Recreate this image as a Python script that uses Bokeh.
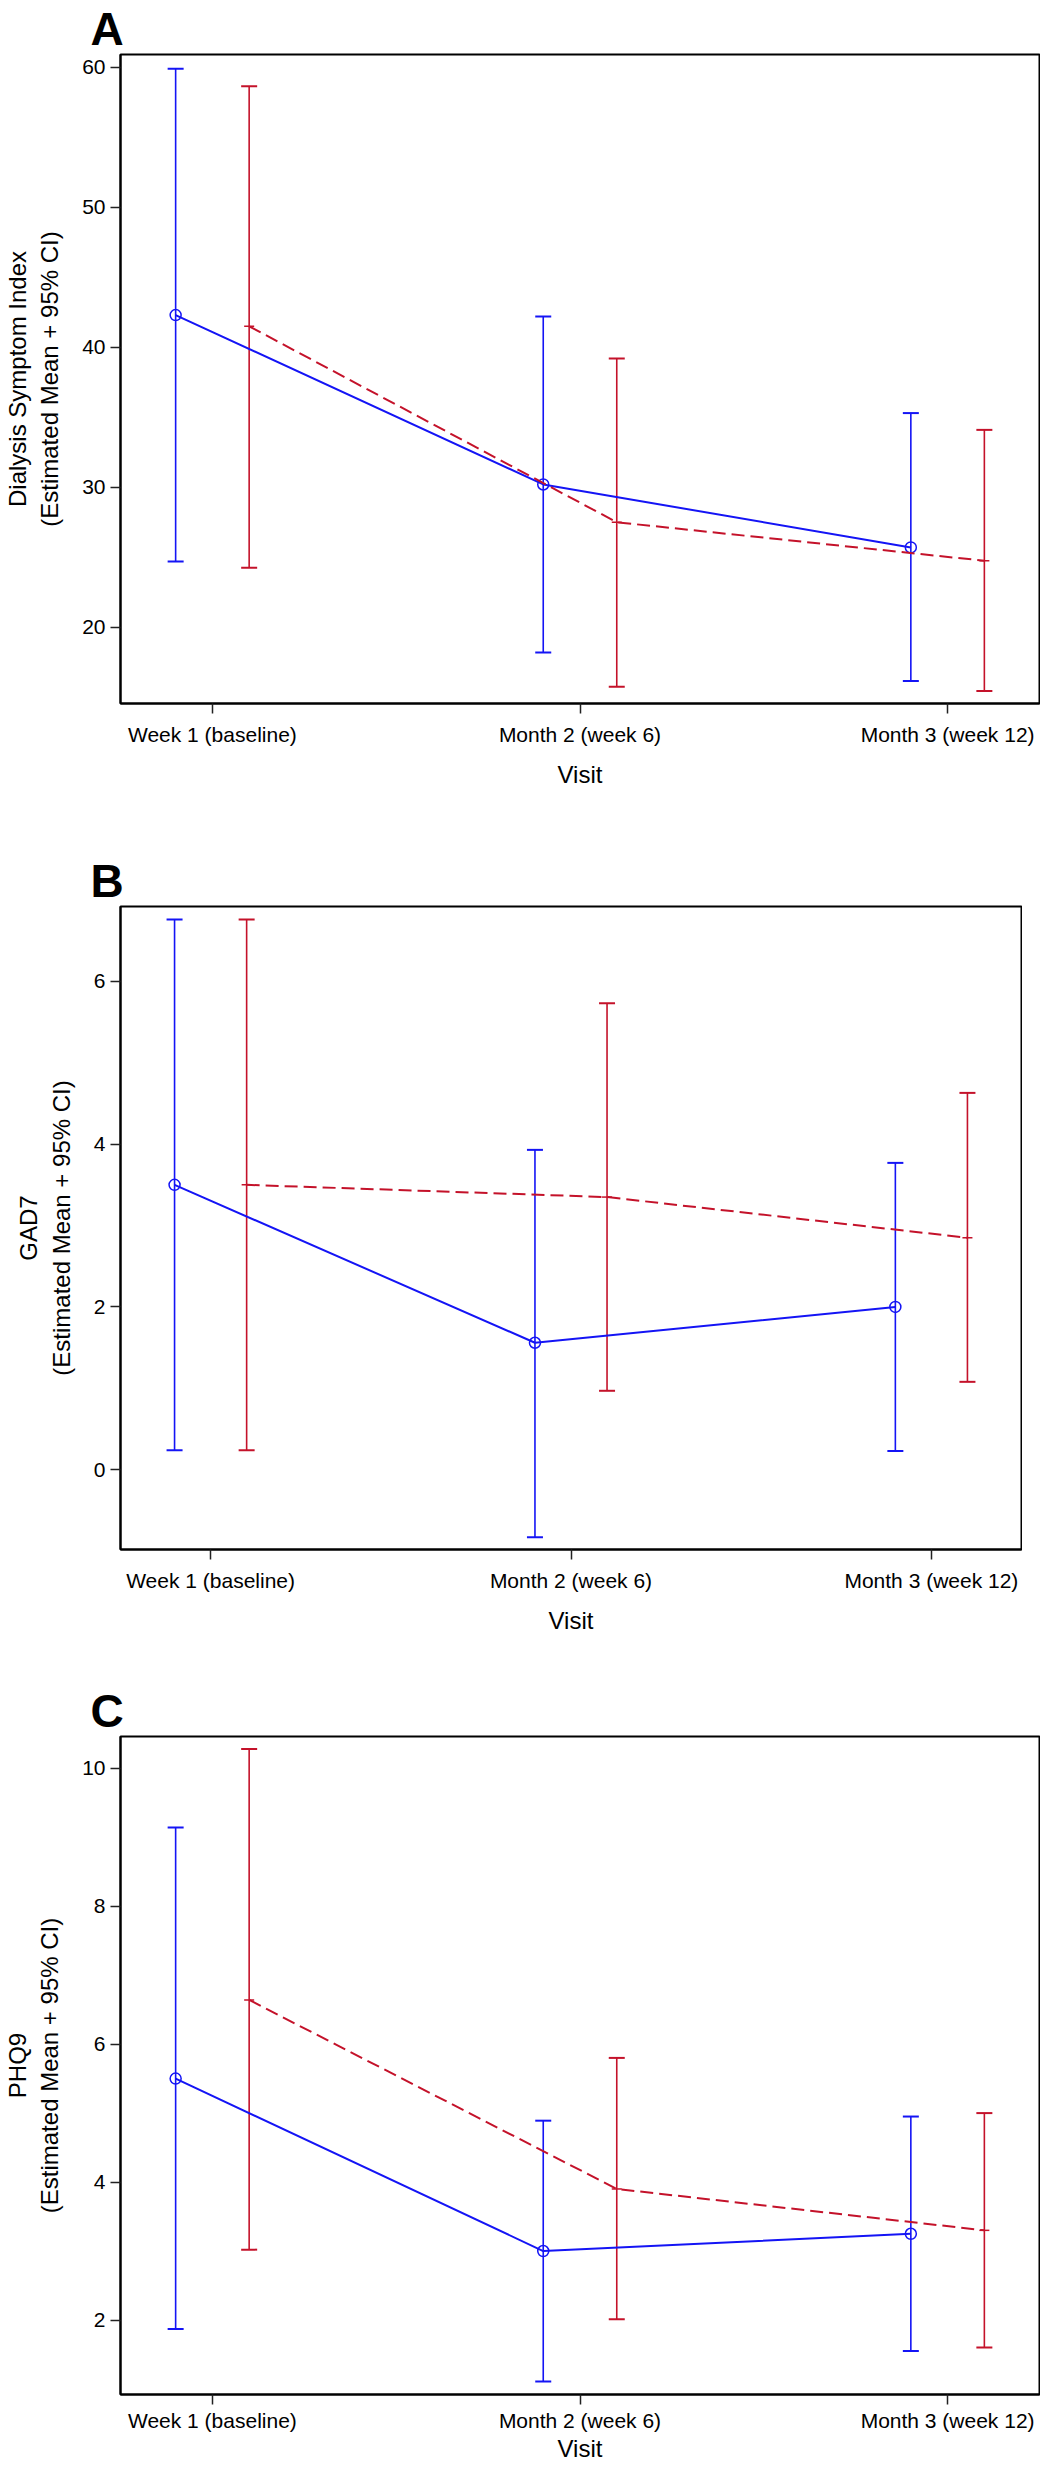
from bokeh.plotting import figure
from bokeh.layouts import column
from bokeh.models import ColumnDataSource, Whisker, TeeHead, FixedTicker, Range1d
from bokeh.transform import dodge
from bokeh.embed import file_html
from bokeh.resources import INLINE

# ---------------- data ----------------
visits = ["Week 1 (baseline)", "Month 2 (week 6)", "Month 3 (week 12)"]
visit_pos = [0, 1, 2]

# Panel A: Dialysis Symptom Index
dsi_blue_mean = [42.3, 30.2, 25.7]
dsi_blue_lower = [24.7, 18.2, 16.15]
dsi_blue_upper = [59.9, 42.2, 35.3]
dsi_red_mean = [41.5, 27.5, 24.75]
dsi_red_lower = [24.25, 15.75, 15.45]
dsi_red_upper = [58.65, 39.2, 34.1]

# Panel B: GAD7
gad_blue_mean = [3.50, 1.56, 2.00]
gad_blue_lower = [0.24, -0.83, 0.23]
gad_blue_upper = [6.76, 3.93, 3.77]
gad_red_mean = [3.50, 3.35, 2.85]
gad_red_lower = [0.24, 0.97, 1.08]
gad_red_upper = [6.76, 5.73, 4.63]

# Panel C: PHQ9
phq_blue_mean = [5.50, 3.00, 3.25]
phq_blue_lower = [1.87, 1.11, 1.55]
phq_blue_upper = [9.14, 4.89, 4.95]
phq_red_mean = [6.64, 3.90, 3.30]
phq_red_lower = [3.02, 2.01, 1.60]
phq_red_upper = [10.28, 5.80, 5.00]

FONT = "Liberation Sans"
BLUE = "#1414F5"
RED = "#C4122A"
OFF = 0.1


def panel(letter, ylabel, yr, yticks, blue, red, width, height,
          bl, bt, bb, br, xl_standoff=9, xa_standoff=12, lh=1.2):
    p = figure(width=width, height=height, output_backend="svg",
               toolbar_location=None, title=letter,
               x_range=Range1d(-0.25, 2.25), y_range=Range1d(*yr),
               min_border_left=bl, min_border_top=bt,
               min_border_bottom=bb, min_border_right=br)
    p.background_fill_color = "white"
    p.border_fill_color = "white"
    p.outline_line_color = "black"
    p.outline_line_width = 2
    p.xgrid.visible = False
    p.ygrid.visible = False

    p.title.text_font = FONT
    p.title.text_font_size = "46px"
    p.title.text_font_style = "bold"
    p.title.align = "left"
    p.title.offset = -30
    p.title.standoff = 0
    p.title.text_color = "black"

    for ax in (p.xaxis, p.yaxis):
        ax.axis_line_width = 2
        ax.axis_line_color = "black"
        ax.major_tick_line_width = 1.5
        ax.major_tick_line_color = "#222222"
        ax.major_tick_in = 0
        ax.major_tick_out = 10
        ax.minor_tick_line_color = None
        ax.major_label_text_font = FONT
        ax.major_label_text_font_size = "21px"
        ax.major_label_text_color = "black"
        ax.axis_label_text_font = FONT
        ax.axis_label_text_font_style = "normal"
        ax.axis_label_text_color = "black"

    p.xaxis.ticker = FixedTicker(ticks=visit_pos)
    p.xaxis.major_label_overrides = {v: s for v, s in zip(visit_pos, visits)}
    p.xaxis.major_label_standoff = xl_standoff
    p.xaxis.axis_label = "Visit"
    p.xaxis.axis_label_text_font_size = "24px"
    p.xaxis.axis_label_standoff = xa_standoff
    p.xaxis.axis_label_text_line_height = lh
    p.xaxis.major_label_text_line_height = lh

    p.yaxis.ticker = FixedTicker(ticks=yticks)
    p.yaxis.major_label_standoff = 5
    p.yaxis.axis_label = ylabel + "\n(Estimated Mean + 95% CI)"
    p.yaxis.axis_label_text_font_size = "24px"
    p.yaxis.axis_label_standoff = 16

    for (mean, lo, hi), color, off, dash, marker in (
            (blue, BLUE, -OFF, "solid", "circle"),
            (red, RED, OFF, "13 6", "dash")):
        src = ColumnDataSource(dict(x=visit_pos, mean=mean, lower=lo, upper=hi))
        w = Whisker(base=dodge("x", off), lower="lower", upper="upper",
                    source=src, dimension="height",
                    line_color=color, line_width=1.6,
                    upper_head=TeeHead(size=16, line_color=color, line_width=2),
                    lower_head=TeeHead(size=16, line_color=color, line_width=2))
        p.add_layout(w)
        p.line(x=dodge("x", off), y="mean", source=src, line_color=color,
               line_width=2, line_dash=dash)
        if marker == "circle":
            p.scatter(x=dodge("x", off), y="mean", source=src, marker="circle",
                      size=11, fill_color=None, line_color=color, line_width=1.5)
        else:
            p.scatter(x=dodge("x", off), y="mean", source=src, marker="dash",
                      size=10, line_color=color, line_width=1.5)
    return p


pA = panel("A", "Dialysis Symptom Index", (14.55, 60.92), [20, 30, 40, 50, 60],
           (dsi_blue_mean, dsi_blue_lower, dsi_blue_upper),
           (dsi_red_mean, dsi_red_lower, dsi_red_upper),
           width=1040, height=832, bl=110, bt=44, bb=129, br=1)
pB = panel("B", "GAD7", (-0.98, 6.92), [0, 2, 4, 6],
           (gad_blue_mean, gad_blue_lower, gad_blue_upper),
           (gad_red_mean, gad_red_lower, gad_red_upper),
           width=1022, height=840, bl=101, bt=74, bb=123, br=1)
pC = panel("C", "PHQ9", (0.92, 10.46), [2, 4, 6, 8, 10],
           (phq_blue_mean, phq_blue_lower, phq_blue_upper),
           (phq_red_mean, phq_red_lower, phq_red_upper),
           width=1040, height=792, bl=110, bt=64, bb=70, br=1,
           xl_standoff=4, xa_standoff=0, lh=1.0)

layout = column(pA, pB, pC, spacing=0)
open("out.html", "w").write(file_html(layout, INLINE))
